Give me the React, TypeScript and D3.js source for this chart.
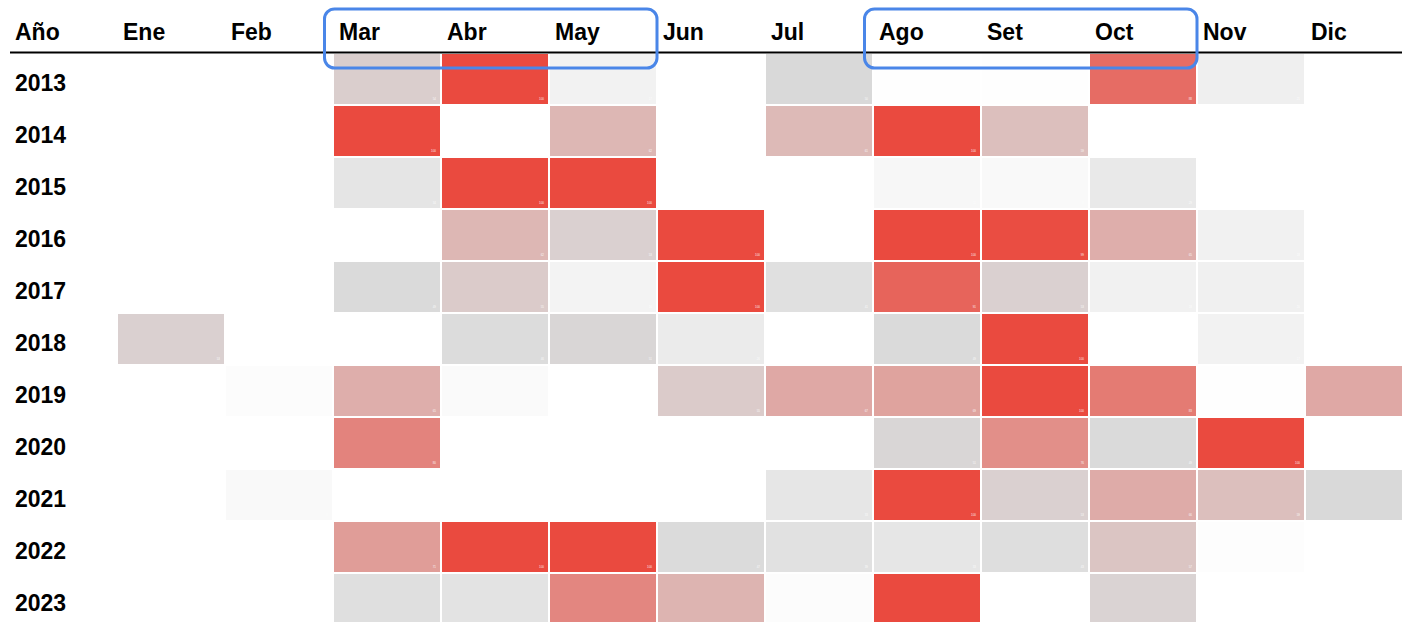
import * as d3 from "d3";
import { useEffect, useRef } from "react";

const width = 1402;
const height = 622;

const months = ["Ene", "Feb", "Mar", "Abr", "May", "Jun", "Jul", "Ago", "Set", "Oct", "Nov", "Dic"];
const years = ["2013", "2014", "2015", "2016", "2017", "2018", "2019", "2020", "2021", "2022", "2023"];

// one row per year, Ene..Dic
const values2013 = [0, 0, 54, 100, 17, 0, 50, 1, 1, 88, 21, 0];
const values2014 = [0, 0, 100, 0, 62, 0, 61, 100, 59, 0, 0, 0];
const values2015 = [0, 0, 34, 100, 100, 0, 0, 11, 8, 29, 0, 0];
const values2016 = [0, 0, 0, 62, 53, 100, 0, 100, 99, 65, 18, 0];
const values2017 = [0, 0, 49, 55, 16, 100, 41, 91, 53, 18, 20, 0];
const values2018 = [53, 0, 0, 46, 51, 26, 0, 49, 100, 0, 17, 0];
const values2019 = [0, 4, 65, 7, 0, 55, 67, 69, 100, 83, 1, 67];
const values2020 = [0, 0, 80, 0, 0, 0, 0, 51, 76, 49, 100, 0];
const values2021 = [0, 8, 0, 0, 0, 0, 33, 100, 53, 66, 59, 50];
const values2022 = [0, 0, 71, 100, 100, 47, 39, 33, 43, 57, 3, 0];
const values2023 = [0, 0, 42, 37, 79, 63, 4, 100, 0, 52, 0, 0];

const rows = [values2013, values2014, values2015, values2016, values2017, values2018,
  values2019, values2020, values2021, values2022, values2023];

const highlights = [["Mar", "May"], ["Ago", "Oct"]];

const font = "'Liberation Sans', Arial, Helvetica, sans-serif";

export default function App() {
  const svgRef = useRef<SVGSVGElement>(null);

  useEffect(() => {
    if (!svgRef.current) return;
    const svg = d3.select(svgRef.current);
    svg.selectAll("*").remove();

    const x = d3.scaleBand<string>()
      .domain(months)
      .range([117, 117 + 108 * months.length])
      .paddingInner(2 / 108)
      .paddingOuter(1 / 108);
    const y = d3.scaleBand<string>()
      .domain(years)
      .range([53, 53 + 52 * years.length])
      .paddingInner(2 / 52)
      .paddingOuter(1 / 52);
    const color = d3.scaleLinear<string>()
      .domain([0, 50, 100])
      .range(["#ffffff", "#d9d9d9", "#ea4a3f"])
      .interpolate(d3.interpolateRgb);

    const cells = years.flatMap((year, i) =>
      months.map((month, j) => ({ year, month, value: rows[i][j] }))
    );

    const cell = svg.append("g")
      .selectAll("g")
      .data(cells)
      .join("g")
      .attr("transform", (d) => `translate(${x(d.month)}, ${y(d.year)})`);

    cell.append("rect")
      .attr("width", x.bandwidth())
      .attr("height", y.bandwidth())
      .attr("fill", (d) => color(d.value));

    // tiny value labels, only where they fit in the frame
    cell.filter((d) => d.value > 0 && (x(d.month) ?? 0) + x.bandwidth() - 2 < width
      && (y(d.year) ?? 0) + y.bandwidth() - 2 < height)
      .append("text")
      .attr("x", x.bandwidth() - 4)
      .attr("y", y.bandwidth() - 4)
      .attr("text-anchor", "end")
      .attr("fill", "#ffffff")
      .attr("opacity", 0.85)
      .style("font-family", font)
      .style("font-size", "3px")
      .text((d) => d.value);

    const label = (sel: any) =>
      sel
        .style("font-family", font)
        .style("font-weight", "700")
        .style("font-size", "23px")
        .attr("fill", "#000");

    svg.append("text")
      .attr("x", 15)
      .attr("y", 39.5)
      .call(label)
      .text("Año");

    svg.append("g")
      .selectAll("text")
      .data(months)
      .join("text")
      .attr("x", (m) => (x(m) ?? 0) + 5)
      .attr("y", 39.5)
      .call(label)
      .text((m) => m);

    svg.append("line")
      .attr("x1", 10)
      .attr("x2", width)
      .attr("y1", 52.5)
      .attr("y2", 52.5)
      .attr("stroke", "#000")
      .attr("stroke-width", 2);

    svg.append("g")
      .selectAll("text")
      .data(years)
      .join("text")
      .attr("x", 15)
      .attr("y", (yr) => (y(yr) ?? 0) + y.bandwidth() / 2 + 12)
      .call(label)
      .text((yr) => yr);

    svg.append("g")
      .selectAll("rect")
      .data(highlights)
      .join("rect")
      .attr("x", (h) => (x(h[0]) ?? 0) - 9.5)
      .attr("y", 9)
      .attr("width", (h) => (x(h[1]) ?? 0) + x.bandwidth() + 1 - (x(h[0]) ?? 0) + 9.5)
      .attr("height", 59)
      .attr("rx", 10)
      .attr("fill", "none")
      .attr("stroke", "#4a86e8")
      .attr("stroke-width", 3);
  }, []);

  return (
    <svg
      ref={svgRef}
      width={width}
      height={height}
      style={{ position: "fixed", top: 0, left: 0, display: "block", background: "#fff" }}
    />
  );
}
